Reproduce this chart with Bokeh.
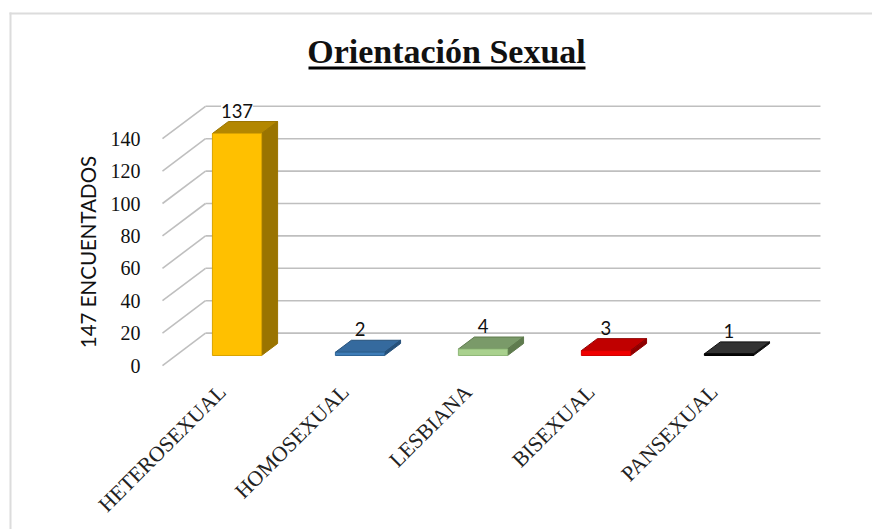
from bokeh.plotting import figure
from bokeh.models import Range1d, FixedTicker, LinearAxis, Label, BoxAnnotation, ColumnDataSource
from bokeh.core.properties import value
from bokeh.embed import file_html
from bokeh.resources import INLINE

categories = ["HETEROSEXUAL", "HOMOSEXUAL", "LESBIANA", "BISEXUAL", "PANSEXUAL"]
counts = [137, 2, 4, 3, 1]
y_ticks = [0, 20, 40, 60, 80, 100, 120, 140]
front_colors = ["#FFC000", "#3F7DB8", "#A9D18E", "#F00000", "#0A0A0A"]
top_colors = ["#B38700", "#356A9E", "#7A9A69", "#C00000", "#333333"]
side_colors = ["#9A7400", "#25507A", "#5F7B4E", "#8E0000", "#111111"]
edge_colors = ["#D9A300", "#2E6596", "#8FB878", "#D00000", "#000000"]
title_text = "Orientación Sexual"
y_title = "147 ENCUENTADOS"

wall_dx, wall_dy = 0.35, 20
bar_w, bar_base = 0.4, 6.2
bar_dx, bar_dy = 0.13, 7.4
wall_left, wall_right = -0.606, 4.744
label_shift = 0.12

p = figure(width=872, height=529, output_backend="svg", toolbar_location=None,
           x_range=Range1d(-1.923, 5.167), y_range=Range1d(-101.2, 225.3),
           min_border_left=0, min_border_right=0, min_border_top=0, min_border_bottom=0,
           x_axis_type=None, y_axis_type=None)
p.outline_line_color = None
p.grid.visible = False

grid_col = "#BFBFBF"
p.segment(x0=[wall_left] * len(y_ticks), y0=y_ticks,
          x1=[wall_left + wall_dx] * len(y_ticks), y1=[t + wall_dy for t in y_ticks],
          line_color=grid_col, line_width=1.6)
p.segment(x0=[wall_left + wall_dx] * len(y_ticks), y0=[t + wall_dy for t in y_ticks],
          x1=[wall_right] * len(y_ticks), y1=[t + wall_dy for t in y_ticks],
          line_color=grid_col, line_width=1.6)

for i, v in enumerate(counts):
    l, r = i - bar_w / 2, i + bar_w / 2
    b, t = bar_base, bar_base + v
    p.patch([l, r, r + bar_dx, l + bar_dx], [t, t, t + bar_dy, t + bar_dy],
            fill_color=top_colors[i], line_color=side_colors[i], line_width=1)
    p.patch([r, r + bar_dx, r + bar_dx, r], [b, b + bar_dy, t + bar_dy, t],
            fill_color=side_colors[i], line_color=side_colors[i], line_width=1)
    p.quad(left=l, right=r, bottom=b, top=t,
           fill_color=front_colors[i], line_color=edge_colors[i], line_width=1)

src = ColumnDataSource(dict(x=list(range(len(counts))),
                            y=[bar_base + v + bar_dy for v in counts],
                            t=[str(v) for v in counts],
                            bg=[1, 0, 0, 0, 0]))
p.text(x="x", y="y", text="t", source=src, text_align="center", text_baseline="bottom",
       y_offset=-4, text_font=value("Lato"), text_font_size="18.5px", text_color="#111111",
       background_fill_color="white", background_fill_alpha="bg")

ax_y = LinearAxis(ticker=FixedTicker(ticks=y_ticks), axis_label=y_title,
                  fixed_location=-0.703, bounds=(0, 140))
ax_y.axis_line_color = None
ax_y.major_tick_line_color = None
ax_y.minor_tick_line_color = None
ax_y.major_label_standoff = 4
ax_y.major_label_text_font = "Liberation Serif"
ax_y.major_label_text_font_size = "20px"
ax_y.major_label_text_color = "#111111"
ax_y.axis_label_text_font = "Lato"
ax_y.axis_label_text_font_style = "normal"
ax_y.axis_label_text_font_size = "20.5px"
ax_y.axis_label_text_color = "#111111"
ax_y.axis_label_standoff = 8
p.add_layout(ax_y, "left")

x_ticks = [round(i - label_shift, 2) for i in range(len(categories))]
ax_x = LinearAxis(ticker=FixedTicker(ticks=x_ticks), fixed_location=-6.17,
                  major_label_overrides={t: c for t, c in zip(x_ticks, categories)})
ax_x.axis_line_color = None
ax_x.major_tick_line_color = None
ax_x.minor_tick_line_color = None
ax_x.major_label_orientation = 0.785
ax_x.major_label_standoff = 7
ax_x.major_label_text_font = "Liberation Serif"
ax_x.major_label_text_font_size = "21.5px"
ax_x.major_label_text_color = "#222222"
p.add_layout(ax_x, "below")

p.add_layout(Label(x=446, y=51, x_units="canvas", y_units="canvas", text=title_text,
                   text_align="center", text_baseline="alphabetic",
                   text_font="Liberation Serif", text_font_style="bold", text_font_size="34px",
                   text_color="#111111"))


def canvas_box(left, right, top, bottom, color):
    p.add_layout(BoxAnnotation(left=left, right=right, top=top, bottom=bottom,
                               left_units="canvas", right_units="canvas",
                               top_units="canvas", bottom_units="canvas",
                               fill_color=color, fill_alpha=1, line_color=None))


canvas_box(308, 585, 66, 69, "#000000")   # title underline
canvas_box(9, 872, 12, 14, "#DCDCDC")     # chart frame, top
canvas_box(9, 11, 12, 529, "#DCDCDC")     # chart frame, left

open("out.html", "w").write(file_html(p, INLINE))
